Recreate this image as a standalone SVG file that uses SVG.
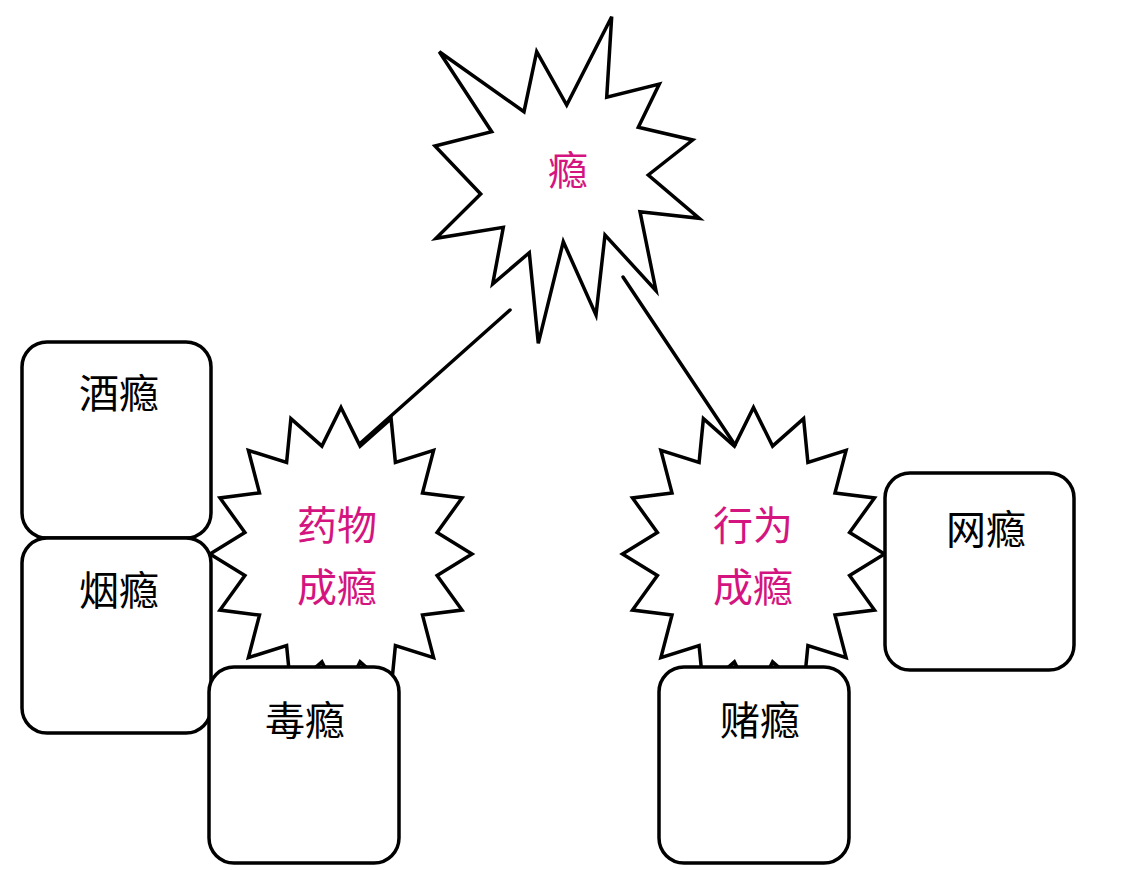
<svg xmlns="http://www.w3.org/2000/svg" width="1123" height="870" viewBox="0 0 1123 870">
  <style>
    .shape { fill: #ffffff; stroke: #000000; stroke-width: 3.5; stroke-linejoin: miter; }
    .box { fill: #ffffff; stroke: #000000; stroke-width: 3.5; }
    .conn { stroke: #000000; stroke-width: 3.5; fill: none; stroke-linecap: round; }
    .pink { fill: #d4157f; font-family: "Noto Sans CJK SC", "Noto Sans", sans-serif; font-size: 40px; text-anchor: middle; }
    .blk { fill: #000000; font-family: "Noto Sans CJK SC", "Noto Sans", sans-serif; font-size: 40px; text-anchor: middle; }
  </style>
  <defs>
    <polygon id="seal16" points="0,-146.5 19.1,-107.9 50.1,-135.3 54.4,-91.5 92.6,-103.6 81.5,-61.1 121,-56.1 96.1,-21.5 131,0 96.1,21.5 121,56.1 81.5,61.1 92.6,103.6 54.4,91.5 50.1,135.3 19.1,107.9 0,146.5 -19.1,107.9 -50.1,135.3 -54.4,91.5 -92.6,103.6 -81.5,61.1 -121,56.1 -96.1,21.5 -131,0 -96.1,-21.5 -121,-56.1 -81.5,-61.1 -92.6,-103.6 -54.4,-91.5 -50.1,-135.3 -19.1,-107.9"/>
  </defs>
  <rect width="1123" height="870" fill="#ffffff"/>

  <g id="node-top">
    <polygon class="shape" points="611.7,16.7 606.7,97.3 659.3,84 638.3,127.3 692.7,140 648.3,175 699.3,218.3 640,211.7 656,290.7 605,235 596,315 563.3,241.7 538.3,343.3 529.3,252.7 492.7,284 503.3,227.3 436,238.3 480.7,194 435,146 491.7,131.7 439.3,51.7 524,111.7 536.7,51.7 566.7,105"/>
    <text class="pink" x="568" y="185">瘾</text>
  </g>

  <g id="node-drug">
    <use href="#seal16" class="shape" transform="translate(341,554)"/>
    <text class="pink" x="337" y="540">药物</text>
    <text class="pink" x="337" y="602">成瘾</text>
  </g>

  <g id="node-behavior">
    <use href="#seal16" class="shape" transform="translate(753.5,554)"/>
    <text class="pink" x="753" y="540">行为</text>
    <text class="pink" x="753" y="602">成瘾</text>
  </g>

  <g id="connectors">
    <line class="conn" x1="510" y1="310" x2="360" y2="443.5"/>
    <line class="conn" x1="623" y1="277" x2="735" y2="445"/>
  </g>

  <g id="node-alcohol">
    <rect class="box" x="22" y="342" width="189" height="196" rx="25" ry="25"/>
    <text class="blk" x="119" y="408">酒瘾</text>
  </g>
  <g id="node-tobacco">
    <rect class="box" x="22" y="538" width="189" height="195" rx="25" ry="25"/>
    <text class="blk" x="119" y="605">烟瘾</text>
  </g>
  <g id="node-drugs">
    <rect class="box" x="209" y="667" width="190" height="196" rx="25" ry="25"/>
    <text class="blk" x="305" y="735">毒瘾</text>
  </g>
  <g id="node-gambling">
    <rect class="box" x="659" y="667" width="190" height="196" rx="25" ry="25"/>
    <text class="blk" x="760" y="735">赌瘾</text>
  </g>
  <g id="node-internet">
    <rect class="box" x="885" y="473" width="189" height="197" rx="25" ry="25"/>
    <text class="blk" x="986" y="544">网瘾</text>
  </g>
</svg>
